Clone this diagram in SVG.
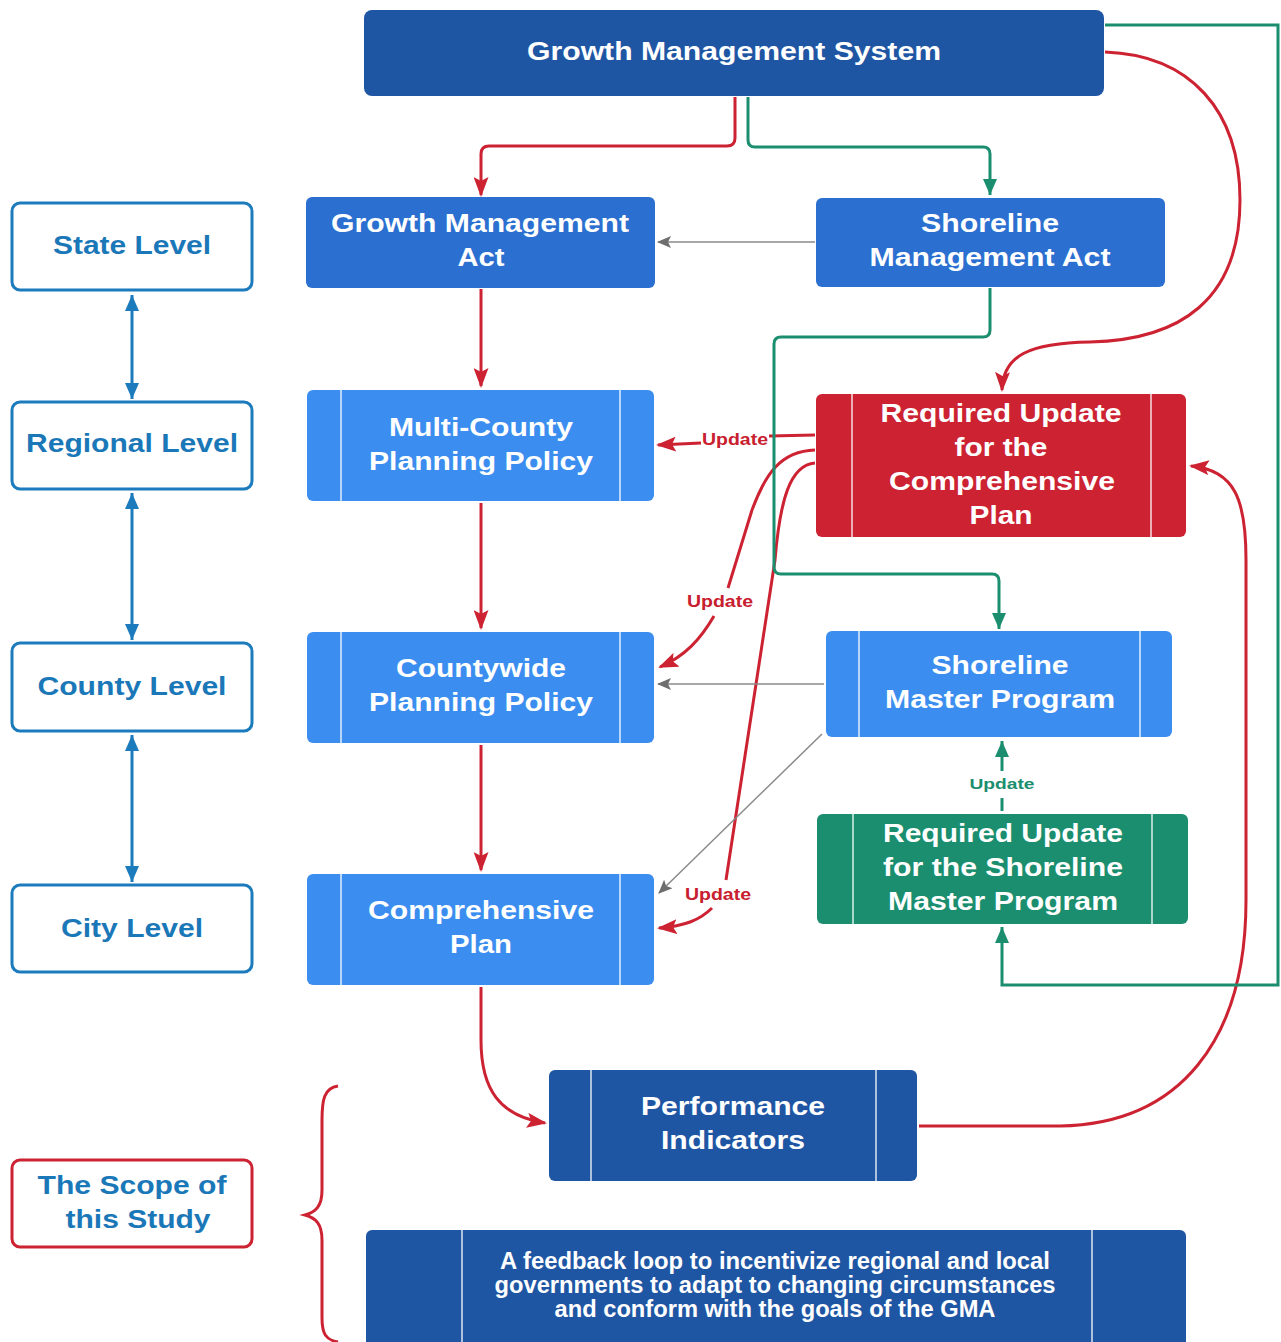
<svg xmlns="http://www.w3.org/2000/svg" width="1281" height="1342" viewBox="0 0 1281 1342">
<style>
text{font-family:"Liberation Sans",Arial,sans-serif;font-weight:bold;text-anchor:middle}
.nt{font-size:26px;fill:#ffffff}
.lt{font-size:25px;fill:#1b78b8}
.ft{font-size:23px;fill:#ffffff}
.ur{font-size:16px;fill:#c8202f}
.ug{font-size:15px;fill:#1a8e6e}
.dark{fill:#1f56a4}
.mid{fill:#2b6fd0}
.light{fill:#3b8ef0}
.red{fill:#cc2232}
.green{fill:#1a8e6e}
.div{stroke:#ffffff;stroke-width:1.5;stroke-opacity:0.85}
.lvl{fill:#ffffff;stroke:#1b7bbd;stroke-width:3}
.cr{fill:none;stroke:#cc2232;stroke-width:3}
.cg{fill:none;stroke:#1a8e6e;stroke-width:3}
.cgy{fill:none;stroke:#8a8a8a;stroke-width:1.5}
.cb{fill:none;stroke:#1b7bbd;stroke-width:3}
</style>
<defs>
<marker id="ar" markerUnits="userSpaceOnUse" markerWidth="20" markerHeight="15" refX="18" refY="7.5" orient="auto"><path d="M0,0 L20,7.5 L0,15 L4,7.5 z" fill="#cc2232"/></marker>
<marker id="ag" markerUnits="userSpaceOnUse" markerWidth="16" markerHeight="14" refX="16" refY="7" orient="auto"><path d="M0,0 L16,7 L0,14 z" fill="#1a8e6e"/></marker>
<marker id="agy" markerUnits="userSpaceOnUse" markerWidth="14" markerHeight="12" refX="13" refY="6" orient="auto"><path d="M0,0 L14,6 L0,12 L3,6 z" fill="#6e6e6e"/></marker>
<marker id="ab" markerUnits="userSpaceOnUse" markerWidth="16" markerHeight="14" refX="16" refY="7" orient="auto-start-reverse"><path d="M0,0 L16,7 L0,14 z" fill="#1b7bbd"/></marker>
</defs>

<g id="connectors">
<path class="cr" d="M735,97 V138 Q735,146 727,146 H489 Q481,146 481,154 V195" marker-end="url(#ar)"/>
<path class="cr" d="M481,289 V386" marker-end="url(#ar)"/>
<path class="cr" d="M481,503 V628" marker-end="url(#ar)"/>
<path class="cr" d="M481,745 V870" marker-end="url(#ar)"/>
<path class="cr" d="M481,987 V1040 C481,1090 500,1116 545,1123" marker-end="url(#ar)"/>
<path class="cr" d="M1105,52 C1190,55 1240,110 1240,200 C1240,300 1180,340 1090,342 C1030,343 1003,355 1002,390" marker-end="url(#ar)"/>
<path class="cr" d="M815,435 L769,436"/>
<path class="cr" d="M701,443 L658,445" marker-end="url(#ar)"/>
<path class="cr" d="M815,450 C780,451 765,475 752,510 L728,588"/>
<path class="cr" d="M714,616 C700,640 685,656 660,667" marker-end="url(#ar)"/>
<path class="cr" d="M815,463 C790,465 780,500 775,560 L726,880"/>
<path class="cr" d="M712,908 C700,920 685,926 659,928" marker-end="url(#ar)"/>
<path class="cr" d="M919,1126 L1060,1126 C1180,1124 1246,1040 1246,900 L1246,560 C1246,500 1235,470 1191,466" marker-end="url(#ar)"/>
<path class="cg" d="M748,97 V140 Q748,147 755,147 H983 Q990,147 990,154 V195" marker-end="url(#ag)"/>
<path class="cg" d="M990,288 V330 Q990,337 983,337 H781 Q774,337 774,344 V567 Q774,574 781,574 H992 Q999,574 999,581 V629" marker-end="url(#ag)"/>
<path class="cg" d="M1105,25 H1278 V985 H1002 V927" marker-end="url(#ag)"/>
<path class="cg" d="M1002,811 V798"/>
<path class="cg" d="M1002,771 V741" marker-end="url(#ag)"/>
<path class="cgy" d="M815,242 H658" marker-end="url(#agy)"/>
<path class="cgy" d="M824,684 H658" marker-end="url(#agy)"/>
<path class="cgy" d="M822,734 L659,893" marker-end="url(#agy)"/>
<path class="cb" d="M132,295 V399" marker-start="url(#ab)" marker-end="url(#ab)"/>
<path class="cb" d="M132,493 V640" marker-start="url(#ab)" marker-end="url(#ab)"/>
<path class="cb" d="M132,735 V882" marker-start="url(#ab)" marker-end="url(#ab)"/>
<path class="cr" d="M338,1086 C324,1088 322,1100 322,1120 L322,1190 C322,1206 316,1212 305,1215 C316,1218 322,1224 322,1240 L322,1318 C322,1334 326,1340 338,1342"/>
<text class="ur" x="735" y="445" textLength="66" lengthAdjust="spacingAndGlyphs">Update</text>
<text class="ur" x="720" y="607" textLength="66" lengthAdjust="spacingAndGlyphs">Update</text>
<text class="ur" x="718" y="900" textLength="66" lengthAdjust="spacingAndGlyphs">Update</text>
<text class="ug" x="1002" y="789" textLength="65" lengthAdjust="spacingAndGlyphs">Update</text>
</g>

<g id="gms">
<rect class="dark" x="364" y="10" width="740" height="86" rx="8"/>
<text class="nt" x="734" y="60" textLength="414" lengthAdjust="spacingAndGlyphs">Growth Management System</text>
</g>

<g id="gma">
<rect class="mid" x="306" y="197" width="349" height="91" rx="6"/>
<text class="nt" x="480" y="232" textLength="298" lengthAdjust="spacingAndGlyphs">Growth Management</text>
<text class="nt" x="481" y="266" textLength="47" lengthAdjust="spacingAndGlyphs">Act</text>
</g>

<g id="sma">
<rect class="mid" x="816" y="198" width="349" height="89" rx="6"/>
<text class="nt" x="990" y="232" textLength="138" lengthAdjust="spacingAndGlyphs">Shoreline</text>
<text class="nt" x="990" y="266" textLength="241" lengthAdjust="spacingAndGlyphs">Management Act</text>
</g>

<g id="mcpp">
<rect class="light" x="307" y="390" width="347" height="111" rx="6"/>
<line class="div" x1="341" y1="390" x2="341" y2="501"/>
<line class="div" x1="620" y1="390" x2="620" y2="501"/>
<text class="nt" x="481" y="436" textLength="184" lengthAdjust="spacingAndGlyphs">Multi-County</text>
<text class="nt" x="481" y="470" textLength="224" lengthAdjust="spacingAndGlyphs">Planning Policy</text>
</g>

<g id="rucp">
<rect class="red" x="816" y="394" width="370" height="143" rx="6"/>
<line class="div" x1="852" y1="394" x2="852" y2="537"/>
<line class="div" x1="1151" y1="394" x2="1151" y2="537"/>
<text class="nt" x="1001" y="422" textLength="241" lengthAdjust="spacingAndGlyphs">Required Update</text>
<text class="nt" x="1001" y="456" textLength="93" lengthAdjust="spacingAndGlyphs">for the</text>
<text class="nt" x="1002" y="490" textLength="226" lengthAdjust="spacingAndGlyphs">Comprehensive</text>
<text class="nt" x="1001" y="524" textLength="63" lengthAdjust="spacingAndGlyphs">Plan</text>
</g>

<g id="cpp">
<rect class="light" x="307" y="632" width="347" height="111" rx="6"/>
<line class="div" x1="341" y1="632" x2="341" y2="743"/>
<line class="div" x1="620" y1="632" x2="620" y2="743"/>
<text class="nt" x="481" y="677" textLength="170" lengthAdjust="spacingAndGlyphs">Countywide</text>
<text class="nt" x="481" y="711" textLength="224" lengthAdjust="spacingAndGlyphs">Planning Policy</text>
</g>

<g id="smp">
<rect class="light" x="826" y="631" width="346" height="106" rx="6"/>
<line class="div" x1="859" y1="631" x2="859" y2="737"/>
<line class="div" x1="1140" y1="631" x2="1140" y2="737"/>
<text class="nt" x="1000" y="674" textLength="137" lengthAdjust="spacingAndGlyphs">Shoreline</text>
<text class="nt" x="1000" y="708" textLength="230" lengthAdjust="spacingAndGlyphs">Master Program</text>
</g>

<g id="rusmp">
<rect class="green" x="817" y="814" width="371" height="110" rx="6"/>
<line class="div" x1="853" y1="814" x2="853" y2="924"/>
<line class="div" x1="1152" y1="814" x2="1152" y2="924"/>
<text class="nt" x="1003" y="842" textLength="240" lengthAdjust="spacingAndGlyphs">Required Update</text>
<text class="nt" x="1003" y="876" textLength="240" lengthAdjust="spacingAndGlyphs">for the Shoreline</text>
<text class="nt" x="1003" y="910" textLength="230" lengthAdjust="spacingAndGlyphs">Master Program</text>
</g>

<g id="cp">
<rect class="light" x="307" y="874" width="347" height="111" rx="6"/>
<line class="div" x1="341" y1="874" x2="341" y2="985"/>
<line class="div" x1="620" y1="874" x2="620" y2="985"/>
<text class="nt" x="481" y="919" textLength="226" lengthAdjust="spacingAndGlyphs">Comprehensive</text>
<text class="nt" x="481" y="953" textLength="62" lengthAdjust="spacingAndGlyphs">Plan</text>
</g>

<g id="pi">
<rect class="dark" x="549" y="1070" width="368" height="111" rx="6"/>
<line class="div" x1="591" y1="1070" x2="591" y2="1181"/>
<line class="div" x1="876" y1="1070" x2="876" y2="1181"/>
<text class="nt" x="733" y="1115" textLength="184" lengthAdjust="spacingAndGlyphs">Performance</text>
<text class="nt" x="733" y="1149" textLength="144" lengthAdjust="spacingAndGlyphs">Indicators</text>
</g>

<g id="feedback">
<rect class="dark" x="366" y="1230" width="820" height="125" rx="6"/>
<line class="div" x1="462" y1="1230" x2="462" y2="1342"/>
<line class="div" x1="1092" y1="1230" x2="1092" y2="1342"/>
<text class="ft" x="775" y="1269" textLength="550" lengthAdjust="spacingAndGlyphs">A feedback loop to incentivize regional and local</text>
<text class="ft" x="775" y="1293" textLength="561" lengthAdjust="spacingAndGlyphs">governments to adapt to changing circumstances</text>
<text class="ft" x="775" y="1317" textLength="441" lengthAdjust="spacingAndGlyphs">and conform with the goals of the GMA</text>
</g>

<g id="state">
<rect class="lvl" x="12" y="203" width="240" height="87" rx="8"/>
<text class="lt" x="132" y="254" textLength="158" lengthAdjust="spacingAndGlyphs">State Level</text>
</g>
<g id="regional">
<rect class="lvl" x="12" y="402" width="240" height="87" rx="8"/>
<text class="lt" x="132" y="452" textLength="212" lengthAdjust="spacingAndGlyphs">Regional Level</text>
</g>
<g id="county">
<rect class="lvl" x="12" y="643" width="240" height="88" rx="8"/>
<text class="lt" x="132" y="695" textLength="189" lengthAdjust="spacingAndGlyphs">County Level</text>
</g>
<g id="city">
<rect class="lvl" x="12" y="885" width="240" height="87" rx="8"/>
<text class="lt" x="132" y="937" textLength="142" lengthAdjust="spacingAndGlyphs">City Level</text>
</g>
<g id="scope">
<rect x="12" y="1160" width="240" height="87" rx="8" fill="#ffffff" stroke="#cc2232" stroke-width="3"/>
<text class="lt" x="132" y="1194" textLength="189" lengthAdjust="spacingAndGlyphs">The Scope of</text>
<text class="lt" x="138" y="1228" textLength="145" lengthAdjust="spacingAndGlyphs">this Study</text>
</g>
</svg>
